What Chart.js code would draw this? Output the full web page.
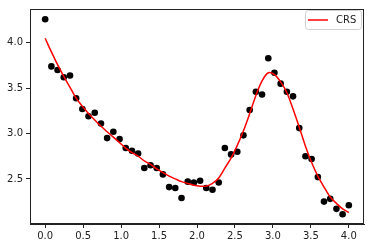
<!DOCTYPE html>
<html>
<head>
<meta charset="utf-8">
<script src="https://cdn.jsdelivr.net/npm/chart.js@4/dist/chart.umd.min.js"></script>
<style>
  html, body { margin: 0; padding: 0; background: #fff; }
  #wrap { width: 372px; height: 248px; }
</style>
</head>
<body>
<div id="wrap"><canvas id="chart" width="372" height="248"></canvas></div>
<script>
// x positions (50 evenly spaced samples from 0 to 4)
const xValues = [0.000, 0.082, 0.163, 0.245, 0.327, 0.408, 0.490, 0.571, 0.653, 0.735,
                 0.816, 0.898, 0.980, 1.061, 1.143, 1.224, 1.306, 1.388, 1.469, 1.551,
                 1.633, 1.714, 1.796, 1.878, 1.959, 2.041, 2.122, 2.204, 2.286, 2.367,
                 2.449, 2.531, 2.612, 2.694, 2.776, 2.857, 2.939, 3.020, 3.102, 3.184,
                 3.265, 3.347, 3.429, 3.510, 3.592, 3.673, 3.755, 3.837, 3.918, 4.000];
// observed points (black dots)
const observed = [4.26, 3.74, 3.70, 3.62, 3.64, 3.39, 3.27, 3.19, 3.23, 3.11,
                  2.95, 3.02, 2.94, 2.84, 2.81, 2.78, 2.62, 2.65, 2.62, 2.55,
                  2.41, 2.40, 2.29, 2.47, 2.46, 2.48, 2.40, 2.38, 2.46, 2.84,
                  2.77, 2.80, 2.98, 3.26, 3.46, 3.43, 3.83, 3.67, 3.55, 3.46,
                  3.41, 3.06, 2.75, 2.72, 2.52, 2.25, 2.28, 2.17, 2.11, 2.21];
// fitted curve (red line)
const crsFit = [4.05, 3.90, 3.76, 3.63, 3.51, 3.39, 3.30, 3.22, 3.15, 3.08,
                3.02, 2.96, 2.90, 2.84, 2.79, 2.75, 2.70, 2.66, 2.61, 2.57,
                2.53, 2.50, 2.47, 2.45, 2.43, 2.42, 2.42, 2.45, 2.51, 2.62,
                2.73, 2.87, 3.03, 3.22, 3.42, 3.58, 3.67, 3.65, 3.57, 3.45,
                3.27, 3.07, 2.86, 2.68, 2.53, 2.41, 2.30, 2.23, 2.17, 2.13];
const xTicks = [0.0, 0.5, 1.0, 1.5, 2.0, 2.5, 3.0, 3.5, 4.0];
const yTicks = [2.5, 3.0, 3.5, 4.0];

const FONT = { family: 'DejaVu Sans', size: 10 };

// marco completo y leyenda estilo matplotlib
const frameLegend = {
    id: 'frameLegend',
    afterDatasetsDraw(chart) {
        const { ctx, chartArea: a } = chart;
        ctx.save();
        ctx.strokeStyle = '#222';
        ctx.lineWidth = 1;
        ctx.strokeRect(Math.round(a.left) + 0.5, Math.round(a.top) + 0.5,
                       Math.round(a.right - a.left) - 1, Math.round(a.bottom - a.top) - 1);

        // leyenda
        const bx = 305.5, by = 10.5, bw = 56, bh = 19, r = 3;
        ctx.fillStyle = 'rgba(255,255,255,0.8)';
        ctx.strokeStyle = '#d0d0d0';
        ctx.beginPath();
        ctx.roundRect(bx, by, bw, bh, r);
        ctx.fill();
        ctx.stroke();
        ctx.strokeStyle = 'red';
        ctx.lineWidth = 1.5;
        ctx.beginPath();
        ctx.moveTo(308, 20);
        ctx.lineTo(328, 20);
        ctx.stroke();
        ctx.fillStyle = '#222';
        ctx.font = '10px "DejaVu Sans"';
        ctx.textBaseline = 'middle';
        ctx.fillText(chart.data.datasets[0].label, 336, 20.5);
        ctx.restore();
    }
};

new Chart(document.getElementById('chart'), {
    type: 'scatter',
    data: {
        datasets: [{
            label: 'CRS',
            type: 'line',
            data: xValues.map((x, i) => ({ x: x, y: crsFit[i] })),
            borderColor: 'red',
            borderWidth: 1.5,
            pointRadius: 0,
            fill: false,
            tension: 0.3,
            order: 0
        }, {
            label: 'data',
            data: xValues.map((x, i) => ({ x: x, y: observed[i] })),
            backgroundColor: '#000',
            borderColor: '#000',
            pointRadius: 3.3,
            borderWidth: 0,
            order: 1
        }]
    },
    options: {
        responsive: false,
        animation: false,
        events: [],
        layout: { padding: { top: 6, right: 8, left: 0, bottom: 0 } },
        plugins: { legend: { display: false }, tooltip: { enabled: false } },
        scales: {
            x: {
                type: 'linear',
                min: -0.2,
                max: 4.2,
                afterBuildTicks: s => { s.ticks = xTicks.map(v => ({ value: v })); },
                afterFit: s => { s.height = 24; },
                grid: { drawOnChartArea: false, drawTicks: true, tickLength: 4, color: '#222' },
                border: { display: true, color: '#222' },
                ticks: { font: FONT, color: '#222', padding: 2, maxRotation: 0,
                         callback: v => v.toFixed(1) }
            },
            y: {
                type: 'linear',
                min: 2.003,
                max: 4.373,
                afterBuildTicks: s => { s.ticks = yTicks.map(v => ({ value: v })); },
                afterFit: s => { s.width = 30; },
                grid: { drawOnChartArea: false, drawTicks: true, tickLength: 4, color: '#222' },
                border: { display: true, color: '#222' },
                ticks: { font: FONT, color: '#222', padding: 3,
                         callback: v => v.toFixed(1) }
            }
        }
    },
    plugins: [frameLegend]
});
</script>
</body>
</html>
